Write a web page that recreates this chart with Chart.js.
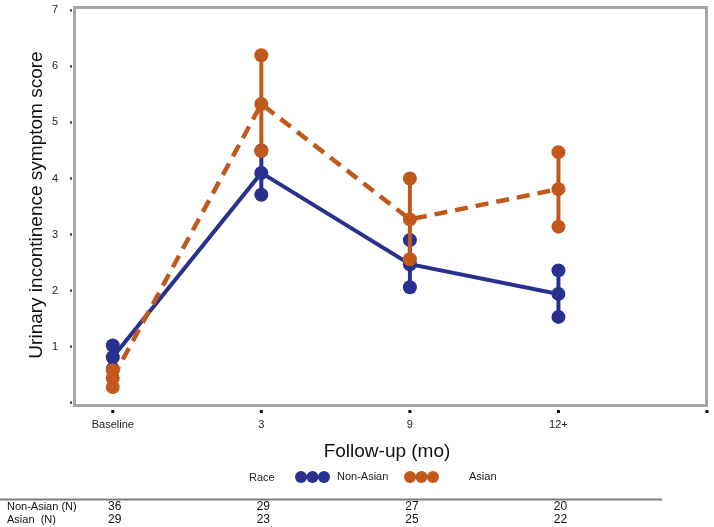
<!DOCTYPE html>
<html>
<head>
<meta charset="utf-8">
<script src="https://cdn.jsdelivr.net/npm/chart.js@4"></script>
<style>
html, body { margin: 0; padding: 0; background: #fff; }
canvas { display: block; }
</style>
</head>
<body>
<canvas id="chart" width="714" height="527"></canvas>
<script>
// categories and values
const xLabels = ['Baseline', '3', '9', '12+'];
const yTicks = [0, 1, 2, 3, 4, 5, 6, 7];
const nonAsianMean = [0.81, 4.10, 2.47, 1.94];
const nonAsianLo = [0.60, 3.71, 2.06, 1.53];
const nonAsianHi = [1.02, 4.50, 2.90, 2.36];
const asianMean = [0.44, 5.33, 3.27, 3.81];
const asianLo = [0.28, 4.49, 2.56, 3.14];
const asianHi = [0.58, 6.20, 4.00, 4.47];
const nonAsianN = [36, 29, 27, 20];
const asianN = [29, 23, 25, 22];

const BLUE = '#28318f';
const ORANGE = '#c1591d';
const FONT = "'Liberation Sans', Arial, sans-serif";

const pts = arr => arr.map((y, i) => ({ x: i, y }));
const ends = (lo, hi) => lo.flatMap((v, i) => [{ x: i, y: v }, { x: i, y: hi[i] }]);
const noPad = s => { s.paddingTop = 0; s.paddingBottom = 0; s.paddingLeft = 0; s.paddingRight = 0; };

const decor = {
    id: 'decor',
    beforeDatasetsDraw(chart) {
        const { ctx, chartArea: a } = chart;
        ctx.save();
        ctx.strokeStyle = '#a3a8ab';
        ctx.lineWidth = 3;
        ctx.strokeRect(a.left + 0.5, a.top + 0.5, a.right - a.left - 1, a.bottom - a.top - 1);
        ctx.restore();
    },
    // error bars go under the points of their own series
    beforeDatasetDraw(chart, args) {
        const ds = chart.data.datasets[args.index];
        if (!ds.lo) return;
        const { ctx, scales: { x, y } } = chart;
        ctx.save();
        ctx.strokeStyle = ds.backgroundColor;
        ctx.lineWidth = 4;
        ds.lo.forEach((v, i) => {
            const px = x.getPixelForValue(i);
            ctx.beginPath();
            ctx.moveTo(px, y.getPixelForValue(v));
            ctx.lineTo(px, y.getPixelForValue(ds.hi[i]));
            ctx.stroke();
        });
        ctx.restore();
    },
    afterDraw(chart) {
        const { ctx, scales: { x, y }, chartArea: a } = chart;
        ctx.save();

        // tick marks
        ctx.fillStyle = '#222';
        yTicks.forEach(v => ctx.fillRect(a.left - 4, y.getPixelForValue(v) - 1, 2, 2));
        ctx.fillStyle = '#111';
        [0, 1, 2, 3, 4].forEach(v => ctx.fillRect(x.getPixelForValue(v) - 1.5, a.bottom + 4, 3, 3));

        // axis titles
        ctx.fillStyle = '#111';
        ctx.textAlign = 'center';
        ctx.textBaseline = 'middle';
        ctx.font = '19px ' + FONT;
        ctx.fillText('Follow-up (mo)', 387, 452);
        ctx.save();
        ctx.translate(37, 205);
        ctx.rotate(-Math.PI / 2);
        ctx.fillText('Urinary incontinence symptom score', 0, 0);
        ctx.restore();

        // legend
        ctx.font = '11px ' + FONT;
        ctx.textAlign = 'left';
        ctx.fillStyle = '#222';
        ctx.fillText('Race', 249, 478);
        ctx.fillText('Non-Asian', 337, 477);
        ctx.fillText('Asian', 469, 477);
        [[BLUE, 301], [ORANGE, 410]].forEach(([c, x0]) => {
            ctx.strokeStyle = c;
            ctx.fillStyle = c;
            ctx.lineWidth = 4;
            ctx.beginPath();
            ctx.moveTo(x0, 477);
            ctx.lineTo(x0 + 23, 477);
            ctx.stroke();
            [0, 11.5, 23].forEach(d => {
                ctx.beginPath();
                ctx.arc(x0 + d, 477, 6, 0, Math.PI * 2);
                ctx.fill();
            });
        });

        // N table
        ctx.strokeStyle = '#7c7c7c';
        ctx.lineWidth = 2;
        ctx.beginPath();
        ctx.moveTo(0, 499.5);
        ctx.lineTo(662, 499.5);
        ctx.stroke();
        ctx.fillStyle = '#111';
        ctx.font = '11px ' + FONT;
        ctx.fillText('Non-Asian (N)', 7, 507);
        ctx.fillText('Asian  (N)', 7, 520);
        ctx.font = '12px ' + FONT;
        ctx.textAlign = 'center';
        nonAsianN.forEach((n, i) => ctx.fillText(String(n), x.getPixelForValue(i) + 2, 507));
        asianN.forEach((n, i) => ctx.fillText(String(n), x.getPixelForValue(i) + 2, 520));
        ctx.restore();
    }
};

new Chart(document.getElementById('chart'), {
    type: 'scatter',
    data: {
        datasets: [
            { label: 'Asian', data: pts(asianMean), showLine: true, borderColor: ORANGE, backgroundColor: ORANGE,
              borderWidth: 4.5, borderDash: [13, 8], pointRadius: 7, pointBorderWidth: 0, order: 1 },
            { label: 'Asian CI', data: ends(asianLo, asianHi), lo: asianLo, hi: asianHi, borderColor: ORANGE,
              backgroundColor: ORANGE, pointRadius: 7, pointBorderWidth: 0, order: 2 },
            { label: 'Non-Asian', data: pts(nonAsianMean), showLine: true, borderColor: BLUE, backgroundColor: BLUE,
              borderWidth: 4, pointRadius: 7, pointBorderWidth: 0, order: 3 },
            { label: 'Non-Asian CI', data: ends(nonAsianLo, nonAsianHi), lo: nonAsianLo, hi: nonAsianHi, borderColor: BLUE,
              backgroundColor: BLUE, pointRadius: 7, pointBorderWidth: 0, order: 4 }
        ]
    },
    options: {
        responsive: false,
        animation: false,
        events: [],
        layout: { padding: { top: 4, right: 2, left: 0, bottom: 0 } },
        plugins: { legend: { display: false }, tooltip: { enabled: false } },
        scales: {
            x: {
                type: 'linear', min: -0.261, max: 4,
                afterBuildTicks: s => { s.ticks = [0, 1, 2, 3, 4].map(v => ({ value: v })); },
                afterFit: s => { s.height = 121; noPad(s); },
                grid: { display: false }, border: { display: false },
                ticks: { autoSkip: false, maxRotation: 0, padding: 4, color: '#222',
                         font: { family: FONT, size: 11 }, callback: v => xLabels[v] ?? '' }
            },
            y: {
                min: -0.06, max: 7.06,
                afterBuildTicks: s => { s.ticks = yTicks.map(v => ({ value: v })); },
                afterFit: s => { s.width = 74; noPad(s); },
                grid: { display: false }, border: { display: false },
                ticks: { padding: 8, color: '#222', font: { family: FONT, size: 11 },
                         callback: v => v === 0 ? '' : v }
            }
        }
    },
    plugins: [decor]
});
</script>
</body>
</html>
